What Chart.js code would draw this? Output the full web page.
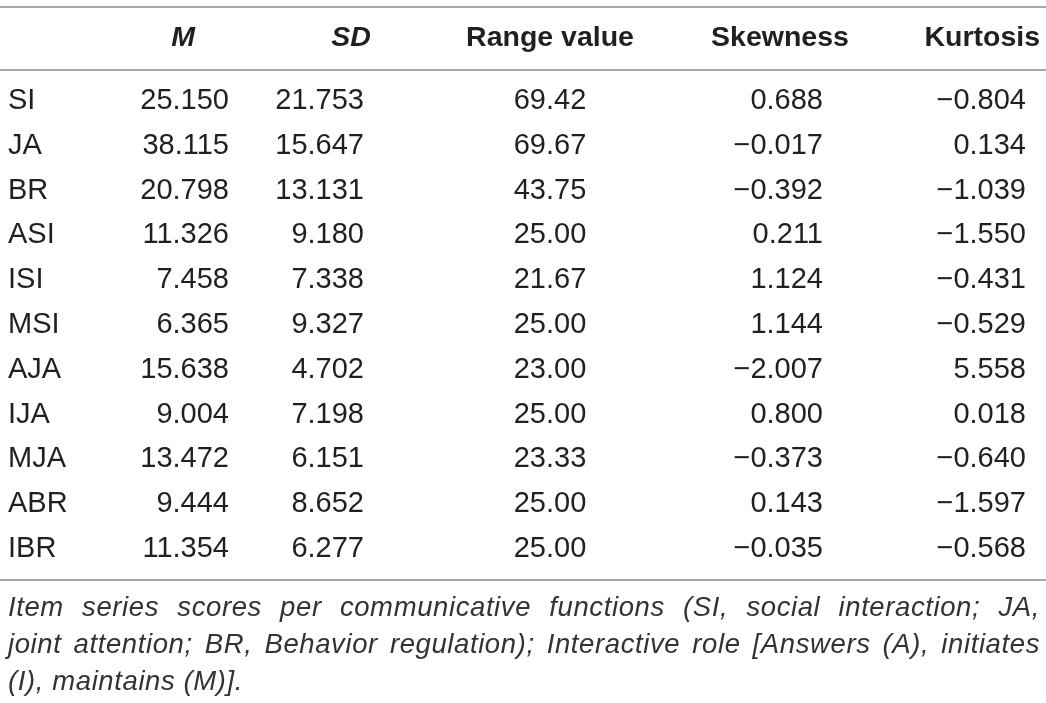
<!DOCTYPE html>
<html>
<head>
<meta charset="utf-8">
<script src="https://cdn.jsdelivr.net/npm/chart.js@4.4.0/dist/chart.umd.min.js"></script>
<style>
  html, body { margin: 0; padding: 0; background: #ffffff; }
  #wrap { width: 1046px; height: 703px; position: relative; }
</style>
</head>
<body>
<div id="wrap"><canvas id="statsTable"></canvas></div>
<script>
// Table data
const headers = ['M', 'SD', 'Range value', 'Skewness', 'Kurtosis'];
const items = ['SI', 'JA', 'BR', 'ASI', 'ISI', 'MSI', 'AJA', 'IJA', 'MJA', 'ABR', 'IBR'];
const means = [25.150, 38.115, 20.798, 11.326, 7.458, 6.365, 15.638, 9.004, 13.472, 9.444, 11.354];
const sds = [21.753, 15.647, 13.131, 9.180, 7.338, 9.327, 4.702, 7.198, 6.151, 8.652, 6.277];
const ranges = [69.42, 69.67, 43.75, 25.00, 21.67, 25.00, 23.00, 25.00, 23.33, 25.00, 25.00];
const skewness = [0.688, -0.017, -0.392, 0.211, 1.124, 1.144, -2.007, 0.800, -0.373, 0.143, -0.035];
const kurtosis = [-0.804, 0.134, -1.039, -1.550, -0.431, -0.529, 5.558, 0.018, -0.640, -1.597, -0.568];
const footnoteLines = [
    'Item series scores per communicative functions (SI, social interaction; JA,',
    'joint attention; BR, Behavior regulation); Interactive role [Answers (A), initiates',
    '(I), maintains (M)].'
];

// Layout (x in canvas-like units, y in row units: first item row = 0)
const textColor = '#231f20';
const ruleColor = '#a7a7a7';
const bodyFont = '29px "Liberation Sans", Arial, sans-serif';
const labelX = 8;
const colAnchors = [
    { x: 229, align: 'right', decimals: 3 },
    { x: 364, align: 'right', decimals: 3 },
    { x: 550, align: 'center', decimals: 2 },
    { x: 823, align: 'right', decimals: 3 },
    { x: 1026, align: 'right', decimals: 3 }
];
const headerAnchors = [
    { x: 183, align: 'center', italic: true },
    { x: 351, align: 'center', italic: true },
    { x: 550, align: 'center', italic: false },
    { x: 780, align: 'center', italic: false },
    { x: 1040, align: 'right', italic: false }
];
const headerRow = -1.40;
const rules = [-2.10, -0.70, 10.70];
const footRows = [11.32, 12.14, 12.97];

function fmt(v, d) {
    const s = Math.abs(v).toFixed(d);
    return v < 0 ? '\u2212' + s : s;
}

const columnsData = [means, sds, ranges, skewness, kurtosis];
const datasets = [{
    label: 'items',
    data: items.map((name, i) => ({ x: labelX, y: i })),
    pointRadius: 0
}];
columnsData.forEach((col, c) => {
    datasets.push({
        label: headers[c],
        data: col.map((v, i) => ({ x: colAnchors[c].x, y: i })),
        pointRadius: 0
    });
});

const tablePlugin = {
    id: 'tableText',
    afterDatasetsDraw(chart) {
        const ctx = chart.ctx;
        const xs = chart.scales.x;
        const ys = chart.scales.y;
        ctx.save();
        ctx.textBaseline = 'middle';

        // horizontal rules
        ctx.strokeStyle = ruleColor;
        ctx.lineWidth = 2;
        rules.forEach(r => {
            const y = Math.round(ys.getPixelForValue(r));
            ctx.beginPath();
            ctx.moveTo(xs.getPixelForValue(0), y);
            ctx.lineTo(xs.getPixelForValue(1046), y);
            ctx.stroke();
        });

        // header
        ctx.fillStyle = textColor;
        headers.forEach((h, c) => {
            const a = headerAnchors[c];
            ctx.font = (a.italic ? 'italic ' : '') + 'bold 28.5px "Liberation Sans", Arial, sans-serif';
            ctx.textAlign = a.align;
            ctx.fillText(h, xs.getPixelForValue(a.x), ys.getPixelForValue(headerRow));
        });

        // body cells
        ctx.font = bodyFont;
        chart.data.datasets.forEach((ds, d) => {
            const meta = chart.getDatasetMeta(d);
            meta.data.forEach((pt, i) => {
                if (d === 0) {
                    ctx.textAlign = 'left';
                    ctx.fillText(items[i], pt.x, pt.y);
                } else {
                    const a = colAnchors[d - 1];
                    ctx.textAlign = a.align;
                    ctx.fillText(fmt(columnsData[d - 1][i], a.decimals), pt.x, pt.y);
                }
            });
        });

        // footnote, justified except the last line
        ctx.font = 'italic 27.5px "Liberation Sans", Arial, sans-serif';
        ctx.letterSpacing = '0.6px';
        ctx.fillStyle = '#333333';
        ctx.textAlign = 'left';
        const left = xs.getPixelForValue(8);
        const right = xs.getPixelForValue(1040);
        const width = right - left;
        footnoteLines.forEach((line, li) => {
            const y = ys.getPixelForValue(footRows[li]);
            const words = line.split(' ');
            if (li === footnoteLines.length - 1) {
                ctx.fillText(line, left, y);
                return;
            }
            const total = words.reduce((s, w) => s + ctx.measureText(w).width, 0);
            const gap = (width - total) / (words.length - 1);
            let x = left;
            words.forEach(w => {
                ctx.fillText(w, x, y);
                x += ctx.measureText(w).width + gap;
            });
        });
        ctx.restore();
    }
};

new Chart(document.getElementById('statsTable'), {
    type: 'scatter',
    data: { datasets: datasets },
    options: {
        responsive: true,
        maintainAspectRatio: false,
        animation: false,
        layout: { padding: 0 },
        events: [],
        scales: {
            x: { type: 'linear', min: 0, max: 1046, display: false },
            y: { type: 'linear', min: -2.254, max: 13.437, reverse: true, display: false }
        },
        plugins: {
            legend: { display: false },
            tooltip: { enabled: false }
        }
    },
    plugins: [tablePlugin]
});
</script>
</body>
</html>
